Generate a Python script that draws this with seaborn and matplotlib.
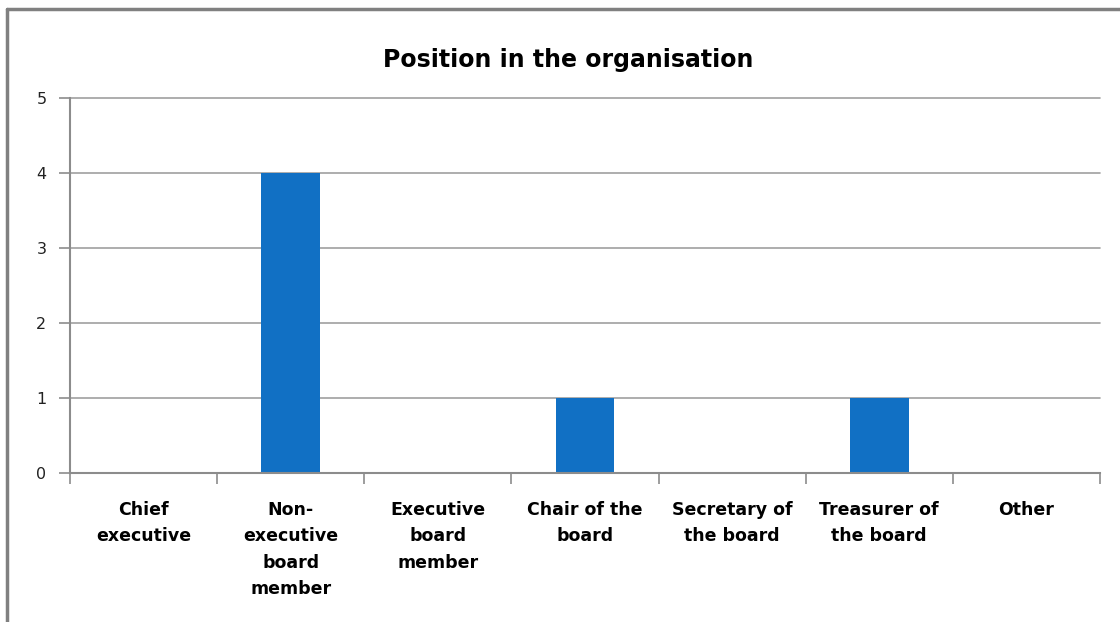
import matplotlib
matplotlib.use("Agg")
import matplotlib.pyplot as plt
from matplotlib.lines import Line2D
import seaborn as sns
import pandas as pd

categories = [
    "Chief\nexecutive",
    "Non-\nexecutive\nboard\nmember",
    "Executive\nboard\nmember",
    "Chair of the\nboard",
    "Secretary of\nthe board",
    "Treasurer of\nthe board",
    "Other",
]
counts = [0, 4, 0, 1, 0, 1, 0]
y_ticks = [0, 1, 2, 3, 4, 5]
title = "Position in the organisation"

bar_color = "#1170C4"
grid_color = "#A0A0A0"
axis_color = "#8C8C8C"

sns.set_theme(style="white")
plt.rcParams["font.family"] = ["DejaVu Sans"]

df = pd.DataFrame({"position": categories, "count": counts})

fig = plt.figure(figsize=(11.2, 6.22), dpi=100)
ax = fig.add_axes([70 / 1120, 1 - 473 / 622, 1030 / 1120, 375 / 622])

sns.barplot(data=df, x="position", y="count", color=bar_color, width=0.4,
            saturation=1, linewidth=0, edgecolor="none", ax=ax, zorder=3)

ax.set_xlim(-0.5, len(categories) - 0.5)
ax.set_ylim(0, 5)
ax.set_yticks(y_ticks)
ax.set_yticklabels([str(t) for t in y_ticks], fontsize=11.5, color="#222222")
ax.set_xlabel("")
ax.set_ylabel("")

# horizontal gridlines
for t in y_ticks[1:]:
    ax.axhline(t, color=grid_color, lw=1.2, zorder=1, clip_on=False)

for side in ["top", "right"]:
    ax.spines[side].set_visible(False)
for side in ["left", "bottom"]:
    ax.spines[side].set_color(axis_color)
    ax.spines[side].set_linewidth(1.5)
    ax.spines[side].set_zorder(4)

ax.tick_params(axis="y", length=8, width=1.2, color=axis_color, pad=9, direction="out", left=True)
ax.tick_params(axis="x", which="major", length=0, pad=20)
ax.set_xticks([i - 0.5 for i in range(len(categories) + 1)], minor=True)
ax.tick_params(axis="x", which="minor", length=8, width=1.2, color=axis_color, direction="out", bottom=True)

for lbl in ax.get_xticklabels():
    lbl.set_fontsize(12.5)
    lbl.set_fontweight("bold")
    lbl.set_color("black")
    lbl.set_linespacing(1.6)
    lbl.set_verticalalignment("top")

fig.text(568 / 1120, 1 - 60 / 622, title, ha="center", va="center",
         fontsize=17, fontweight="bold", color="black")

# chart frame (left and top edges)
fig.add_artist(Line2D([7 / 1120, 7 / 1120], [0, 1 - 9 / 622], transform=fig.transFigure,
                      color="#808080", lw=2.5))
fig.add_artist(Line2D([7 / 1120, 1], [1 - 9 / 622, 1 - 9 / 622], transform=fig.transFigure,
                      color="#808080", lw=2.5))

fig.savefig("out.png", dpi=100, facecolor="white")
